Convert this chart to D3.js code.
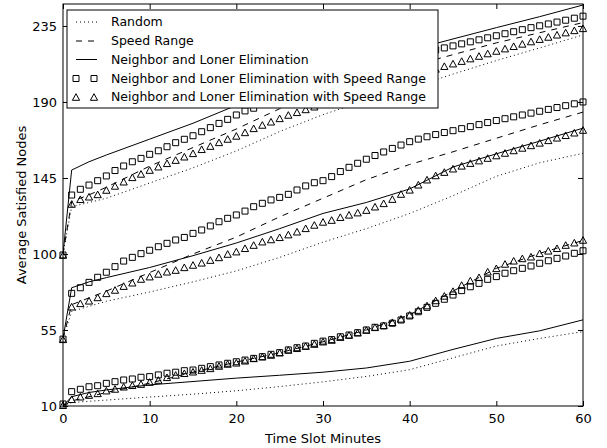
<!DOCTYPE html>
<html>
<head>
<meta charset="utf-8">
<script src="https://cdn.jsdelivr.net/npm/d3@7"></script>
<style>
    body { margin: 0; background: #fff; }
    text { font-family: "DejaVu Sans", sans-serif; fill: #000; }
</style>
</head>
<body>
<div id="chart"></div>
<script>
// minutes for the marker series (one per minute)
var minutes = d3.range(0, 61);
// knots for the plain line series
var lineMinutes = [0, 1, 3, 5, 10, 15, 20, 25, 30, 35, 40, 45, 50, 55, 60];

var xTicks = [0, 10, 20, 30, 40, 50, 60];
var yTicks = [10, 55, 100, 145, 190, 235];

var legendLabels = ["Random", "Speed Range", "Neighbor and Loner Elimination",
    "Neighbor and Loner Elimination with Speed Range",
    "Neighbor and Loner Elimination with Speed Range"];

// ---- upper group
var upperRandom = [100, 128, 130.5, 133, 142, 151, 161, 172.5, 182.5, 191, 198, 206.5, 214.5, 222, 229.7];
var upperSpeed = [100, 131, 135, 139.5, 152, 163, 174, 186, 196, 204, 211, 218, 225, 231, 237];
var upperNLE = [100, 149.7, 154.6, 158.6, 168, 177.4, 188, 198, 206.5, 213, 220.5, 227.3, 234, 240.5, 247.4];
var upperSquares = [99.4, 134.9, 138.3, 140.8, 143.4, 146.2, 149.4, 152.1, 154.6, 156.6, 159.0,
    161.1, 163.5, 165.9, 167.9, 170.0, 172.4, 174.8, 177.3, 179.7, 182.3,
    184.7, 186.3, 188.6, 190.8, 192.9, 194.9, 196.8, 198.6, 200.4, 202.1,
    203.8, 205.4, 207.0, 208.5, 210.0, 211.5, 212.9, 214.3, 215.7, 217.0,
    218.3, 219.6, 220.8, 222.0, 223.2, 224.4, 225.6, 226.8, 228.0, 229.2,
    230.4, 231.6, 232.8, 234.0, 235.1, 236.2, 237.3, 238.4, 239.6, 240.8];
var upperTriangles = [99.4, 129.6, 132.4, 133.9, 135.3, 137.9, 140.3, 142.8, 145.4, 147.4, 149.7,
    151.7, 153.7, 155.6, 157.6, 159.6, 162.0, 163.9, 166.1, 168.1, 169.9,
    172.0, 174.4, 176.4, 178.3, 180.3, 182.3, 183.9, 185.6, 187.2, 188.8,
    190.4, 192.0, 193.6, 195.2, 196.8, 198.4, 200.0, 201.6, 203.2, 204.8,
    206.4, 208.0, 209.6, 211.2, 212.7, 214.2, 215.7, 217.2, 218.7, 220.2,
    221.6, 223.0, 224.4, 225.8, 227.2, 228.5, 229.8, 231.1, 232.4, 233.6];

// ---- middle group
var middleRandom = [50, 66, 69, 72, 77.5, 83.5, 90, 98, 107, 115, 124, 134.5, 146, 154, 159.6];
var middleSpeed = [50, 70, 74, 78, 89, 100, 110, 122, 133, 144, 153, 160.5, 168.5, 176.5, 184];
var middleNLE = [50, 80, 83.5, 86, 92, 99, 106.5, 115, 124, 130.5, 138.5, 151.5, 159.3, 166.8, 174.5];
var middleSquares = [49.6, 76.7, 80.0, 83.2, 86.2, 89.2, 92.5, 95.8, 98.0, 100.2, 102.2,
    104.3, 106.3, 108.3, 109.8, 112.2, 114.2, 116.6, 119.1, 121.1, 123.1,
    125.4, 128.0, 130.0, 132.0, 133.5, 135.3, 137.9, 140.3, 142.2, 143.4,
    145.8, 148.8, 151.3, 153.7, 156.1, 158.3, 160.4, 162.5, 164.5, 166.5,
    168.0, 169.4, 170.7, 171.9, 173.0, 174.2, 175.4, 176.6, 177.8, 179.0,
    180.1, 181.2, 182.3, 183.4, 184.5, 185.6, 186.7, 187.8, 188.9, 190.0];
var middleTriangles = [49.5, 68.8, 70.8, 72.3, 74.3, 76.7, 78.7, 81.0, 83.0, 85.2, 86.6,
    88.2, 89.5, 90.5, 92.1, 93.5, 94.8, 96.4, 98.0, 100.0, 101.4,
    103.4, 105.3, 107.3, 108.6, 109.9, 111.5, 113.2, 115.2, 117.2, 119.0,
    120.1, 121.8, 123.2, 124.5, 126.0, 128.0, 130.0, 132.5, 135.5, 138.0,
    141.0, 144.0, 146.5, 148.5, 150.5, 152.2, 153.8, 155.3, 156.8, 158.3,
    159.8, 161.3, 162.8, 164.3, 165.8, 167.3, 168.8, 170.3, 171.8, 173.4];

// ---- lower group
var lowerRandom = [10, 12, 12.8, 13.5, 15.3, 17, 19, 21.5, 24.3, 27.5, 31.5, 38.5, 45.5, 50, 54];
var lowerSpeed = [10, 13, 15.5, 18, 23.5, 30, 36, 41.5, 48, 55, 64, 78, 91.5, 100.4, 108];
var lowerNLE = [10, 15.5, 18, 19.5, 22.5, 24.5, 26.5, 28.2, 30, 32.5, 36.5, 43.5, 50, 54.5, 61];
var lowerSquares = [11.2, 18.5, 19.9, 21.4, 22.0, 23.4, 24.4, 25.4, 26.0, 27.0, 27.4,
    28.4, 29.4, 30.0, 30.9, 31.3, 32.3, 33.3, 34.3, 35.3, 36.2,
    37.2, 38.2, 39.2, 40.6, 41.6, 43.2, 44.5, 45.5, 47.1, 48.4,
    49.3, 51.0, 52.0, 53.4, 55.0, 56.6, 57.4, 59.0, 60.9, 63.3,
    65.8, 68.4, 70.8, 73.2, 75.7, 78.3, 80.6, 82.6, 85.0, 86.6,
    88.6, 90.1, 91.5, 92.9, 94.5, 96.0, 97.4, 98.8, 100.4, 101.9];
var lowerTriangles = [10.5, 14.0, 15.5, 16.5, 17.5, 19.1, 20.1, 21.4, 22.3, 23.0, 24.2,
    25.4, 27.0, 28.4, 29.4, 30.3, 31.3, 32.3, 33.7, 34.9, 35.6,
    36.8, 38.2, 39.2, 40.2, 41.6, 43.2, 44.2, 45.5, 46.7, 48.1,
    49.1, 50.8, 52.0, 53.4, 55.0, 56.6, 57.8, 59.6, 61.6, 64.0,
    66.8, 69.5, 72.5, 75.2, 78.0, 81.6, 84.2, 86.2, 89.5, 91.5,
    94.1, 96.0, 97.4, 98.4, 100.4, 101.9, 103.4, 105.3, 106.7, 108.3];

var margin = { left: 63, right: 24, top: 4, bottom: 42 };
var width = 607 - margin.left - margin.right;
var height = 448 - margin.top - margin.bottom;

var svg = d3.select("#chart")
    .append("svg")
    .attr("width", 607)
    .attr("height", 448);
var g = svg.append("g")
    .attr("transform", "translate(" + margin.left + "," + margin.top + ")");

var x = d3.scaleLinear().domain([0, 60]).range([0, width]);
var y = d3.scaleLinear().domain([10, 248]).range([height, 0]);

svg.append("defs").append("clipPath").attr("id", "plot-clip")
    .append("rect").attr("width", width).attr("height", height);

var styles = {
    random: "1,3",
    speed: "6,6",
    nle: null
};

var line = d3.line()
    .x(function (d) { return x(d[0]); })
    .y(function (d) { return y(d[1]); });

var plot = g.append("g").attr("clip-path", "url(#plot-clip)");

function drawLine(values, dash) {
    plot.append("path")
        .datum(d3.zip(lineMinutes, values))
        .attr("fill", "none")
        .attr("stroke", "#000")
        .attr("stroke-width", 1)
        .attr("stroke-dasharray", dash)
        .attr("d", line);
}

// square and triangle marker paths, centred on 0,0
var squarePath = "M-3,-3H3V3H-3Z";
var trianglePath = "M0,-3.3L3.6,3.3L-3.6,3.3Z";

function drawMarkers(values, shape) {
    g.append("g").selectAll("path")
        .data(d3.zip(minutes, values))
        .enter()
        .append("path")
        .attr("transform", function (d) { return "translate(" + x(d[0]) + "," + y(d[1]) + ")"; })
        .attr("d", shape)
        .attr("fill", "none")
        .attr("stroke", "#000")
        .attr("stroke-width", 1);
}

[[upperRandom, upperSpeed, upperNLE, upperSquares, upperTriangles],
 [middleRandom, middleSpeed, middleNLE, middleSquares, middleTriangles],
 [lowerRandom, lowerSpeed, lowerNLE, lowerSquares, lowerTriangles]].forEach(function (grp) {
    drawLine(grp[0], styles.random);
    drawLine(grp[1], styles.speed);
    drawLine(grp[2], styles.nle);
    drawMarkers(grp[3], squarePath);
    drawMarkers(grp[4], trianglePath);
});

// Axes, classic style: ticks inside on all four sides
var tickLen = 5;
var xAxisCall = d3.axisBottom(x).tickValues(xTicks).tickSizeInner(-tickLen).tickSizeOuter(0).tickPadding(8);
var yAxisCall = d3.axisLeft(y).tickValues(yTicks).tickSizeInner(-tickLen).tickSizeOuter(0).tickPadding(6);

var xAxis = g.append("g").attr("transform", "translate(0," + height + ")").call(xAxisCall);
var yAxis = g.append("g").call(yAxisCall);
g.append("g").call(d3.axisTop(x).tickValues(xTicks).tickSizeInner(-tickLen).tickSizeOuter(0).tickFormat(""));
g.append("g").attr("transform", "translate(" + width + ",0)")
    .call(d3.axisRight(y).tickValues(yTicks).tickSizeInner(-tickLen).tickSizeOuter(0).tickFormat(""));

g.selectAll(".domain").remove();
g.selectAll(".tick line").attr("stroke", "#000");
g.selectAll(".tick text")
    .attr("font-size", "13px")
    .attr("font-family", "DejaVu Sans");

// frame
g.append("rect")
    .attr("width", width)
    .attr("height", height)
    .attr("fill", "none")
    .attr("stroke", "#000")
    .attr("stroke-width", 1);

// X Label
g.append("text")
    .attr("x", width / 2)
    .attr("y", height + 37)
    .attr("font-size", "13px")
    .attr("text-anchor", "middle")
    .text("Time Slot Minutes");

// Y Label
g.append("text")
    .attr("transform", "rotate(-90)")
    .attr("x", -height / 2)
    .attr("y", -37.5)
    .attr("font-size", "13px")
    .attr("text-anchor", "middle")
    .text("Average Satisfied Nodes");

// Legend
var legend = svg.append("g").attr("transform", "translate(67,10)");
legend.append("rect")
    .attr("width", 371)
    .attr("height", 98)
    .attr("fill", "#fff")
    .attr("stroke", "#000")
    .attr("stroke-width", 1);

var rowY = [12, 31, 49.5, 68.5, 87];
legendLabels.forEach(function (label, i) {
    var row = legend.append("g").attr("transform", "translate(0," + rowY[i] + ")");
    if (i < 3) {
        row.append("line")
            .attr("x1", 9).attr("x2", 30)
            .attr("stroke", "#000")
            .attr("stroke-width", 1)
            .attr("stroke-dasharray", [styles.random, styles.speed, styles.nle][i]);
    } else {
        var shape = i === 3 ? squarePath : trianglePath;
        [9, 27].forEach(function (mx) {
            row.append("path")
                .attr("transform", "translate(" + mx + ",0)")
                .attr("d", shape)
                .attr("fill", "none")
                .attr("stroke", "#000");
        });
    }
    row.append("text")
        .attr("x", 44)
        .attr("dy", "0.35em")
        .attr("font-size", "12.5px")
        .text(label);
});
</script>
</body>
</html>
